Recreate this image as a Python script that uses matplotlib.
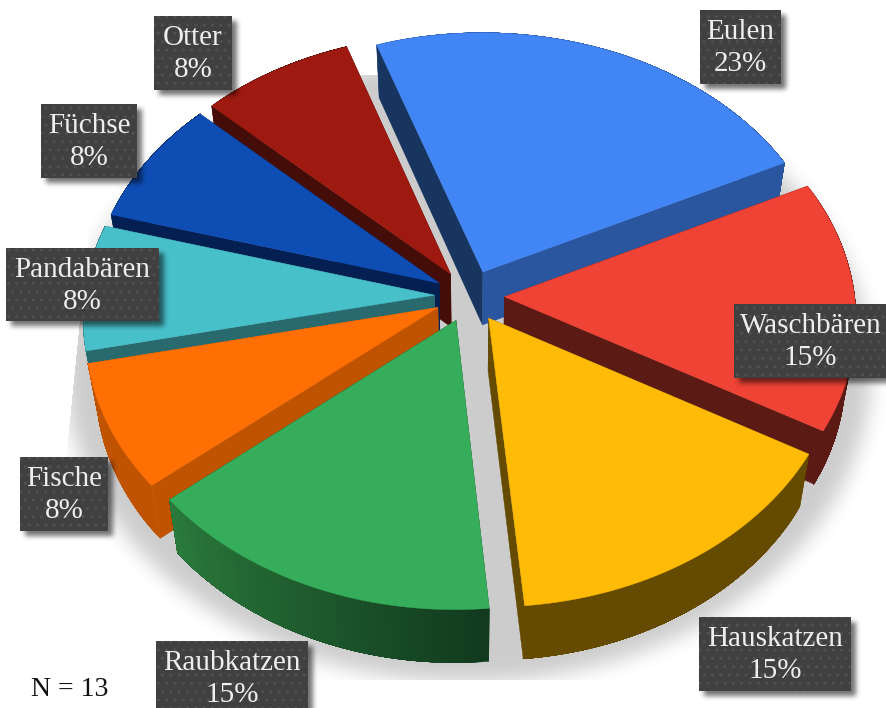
import numpy as np
import matplotlib
matplotlib.use("Agg")
import matplotlib.pyplot as plt
from matplotlib.colors import to_rgb
from matplotlib.patches import Polygon, Rectangle

# ---- data -------------------------------------------------------------
categories = ["Eulen", "Waschbären", "Hauskatzen", "Raubkatzen",
              "Fische", "Pandabären", "Füchse", "Otter"]
counts = [3, 2, 2, 2, 1, 1, 1, 1]
note = "N = 13"

# ---- styles ------------------------------------------------------------
top_colors = ["#4285F4", "#EF4335", "#FFBB05", "#36AD5B",
              "#FF6F03", "#48C0CA", "#0E4DB4", "#9E1A10"]
start_wall = ["#17355F", "#5C1A14", "#654B00", "#14401F",
              "#BF5300", "#286A6E", "#041F52", "#450D07"]
end_wall = ["#2A559F", "#5C1A14", "#654B00", "#14401F",
            "#BF5300", "#286A6E", "#041F52", "#450D07"]
arc_wall_a = ["#2A559F", "#5C1A14", "#654B00", "#113A1E",
              "#BF5300", "#286A6E", "#041F52", "#450D07"]
arc_wall_b = ["#2A559F", "#5C1A14", "#654B00", "#2A7A3C",
              "#BF5300", "#286A6E", "#041F52", "#450D07"]
# label box: left, top, right, bottom in pixels
label_boxes = [(700, 10, 781, 84), (734, 304, 887, 378), (699, 617, 851, 691),
               (156, 641, 308, 715), (20, 457, 108, 531), (6, 248, 159, 321),
               (41, 104, 137, 178), (154, 16, 232, 90)]

W, H = 887, 708
CX, CY, AX, BY, PERSP = 469.5, 296.0, 350.0, 262.0, 0.08
EXPLODE, START, DEPTH, CONVERGE = 0.10, -19.0, 53.0, 0.973


def project(x, y):
    w = 1 + PERSP * y
    return CX + AX * x / w, CY - BY * y / w


def lower(sx, sy):
    return CX + (sx - CX) * CONVERGE, sy + DEPTH


def blur(a, sigma):
    """Approximate gaussian blur through three box passes."""
    r = max(1, int(round(sigma)))
    for axis in (0, 1):
        for _ in range(3):
            pad = [(0, 0), (0, 0)]
            pad[axis] = (r + 1, r)
            c = np.cumsum(np.pad(a, pad, mode="edge"), axis=axis)
            hi = np.take(c, np.arange(2 * r + 1, c.shape[axis]), axis=axis)
            lo = np.take(c, np.arange(0, c.shape[axis] - 2 * r - 1), axis=axis)
            a = (hi - lo) / (2 * r + 1)
    return a


def overlay(ax, alpha, z):
    img = np.zeros((H, W, 4))
    img[..., 3] = alpha
    ax.imshow(img, extent=(0, W, H, 0), interpolation="nearest",
              aspect="auto", zorder=z)


fig = plt.figure(figsize=(W / 100, H / 100), dpi=100, facecolor="white")
ax = fig.add_axes([0, 0, 1, 1])

# ---- floor shadow ------------------------------------------------------
yy, xx = np.mgrid[0:H, 0:W] + 0.5
mask = (((xx - 468) / 403) ** 2 + ((yy - 370) / 312) ** 2 <= 1).astype(float)
soft = blur(mask, 9)
soft[(yy < 75) | (yy > 680)] = 0
soft[xx < 80 - (yy - 320) * 0.1] = 0
overlay(ax, soft * 0.2, 1)

# ---- slices ------------------------------------------------------------
total = sum(counts)
spans = [c / total * 360 for c in counts]
starts = START + np.cumsum([0] + spans[:-1])
mids = starts + np.array(spans) / 2
order = np.argsort(-np.cos(np.radians(mids)))

for i in order:
    a0, a1, m = starts[i], starts[i] + spans[i], mids[i]
    ox = EXPLODE * np.sin(np.radians(m))
    oy = EXPLODE * np.cos(np.radians(m))
    th = np.radians(np.linspace(a0, a1, 60))
    tx, ty = project(ox + np.sin(th), oy + np.cos(th))
    bx, by = lower(tx, ty)
    ax0, ay0 = project(ox, oy)
    bx0, by0 = lower(ax0, ay0)
    n = len(th)
    # slices at the back show their straight walls in front of the curved one
    back = np.cos(np.radians(m)) > 0
    arc_z, wall_z = (10, 11) if back else (11, 10)

    ax.add_patch(Polygon([(ax0, ay0), (tx[0], ty[0]), (bx[0], by[0]), (bx0, by0)],
                         fc=start_wall[i], ec=start_wall[i], lw=0.3, zorder=wall_z))
    ax.add_patch(Polygon([(ax0, ay0), (tx[-1], ty[-1]), (bx[-1], by[-1]), (bx0, by0)],
                         fc=end_wall[i], ec=end_wall[i], lw=0.3, zorder=wall_z))
    ca, cb = np.array(to_rgb(arc_wall_a[i])), np.array(to_rgb(arc_wall_b[i]))
    for j in range(n - 1):
        col = ca + (cb - ca) * j / (n - 2)
        ax.add_patch(Polygon(np.r_[np.c_[tx[j:], ty[j:]], np.c_[bx[j:], by[j:]][::-1]],
                             fc=col, ec=col, lw=0.3, zorder=arc_z))
    ax.add_patch(Polygon(np.r_[[[ax0, ay0]], np.c_[tx, ty]],
                         fc=top_colors[i], ec=top_colors[i], lw=0.3, zorder=12))
    # zorder is per artist, so slices are layered by bumping nothing further:
    for p in ax.patches[-(n + 2):]:
        p.set_zorder(p.get_zorder() + 10 * (list(order).index(i) + 1))

# ---- labels ------------------------------------------------------------
shadow = np.zeros((H, W))
for l, t, r, b in label_boxes:
    shadow[max(t + 5, 0):min(b + 5, H), l + 5:min(r + 5, W)] = 1
overlay(ax, blur(shadow, 2) * 0.55, 200)

for name, c, (l, t, r, b) in zip(categories, counts, label_boxes):
    ax.add_patch(Rectangle((l, t), r - l, b - t, fc="#404040", ec="none", zorder=201))
    ax.add_patch(Rectangle((l, t), r - l, b - t, fc="none", ec="#505050", lw=0,
                           hatch="..", zorder=202))
    pct = round(c / total * 100)
    cx = (l + r) / 2
    ax.text(cx, t + 22, name, color="#EEEEEE", family="Liberation Serif",
            fontsize=21, ha="center", va="center", zorder=203)
    ax.text(cx, t + 54, f"{pct}%", color="#EEEEEE", family="Liberation Serif",
            fontsize=21, ha="center", va="center", zorder=203)

ax.text(70, 690, note, color="#111111", family="Liberation Serif", fontsize=20,
        ha="center", va="center", zorder=203)

ax.set_xlim(0, W)
ax.set_ylim(H, 0)
ax.axis("off")
fig.savefig("out.png", dpi=100, facecolor="white")
